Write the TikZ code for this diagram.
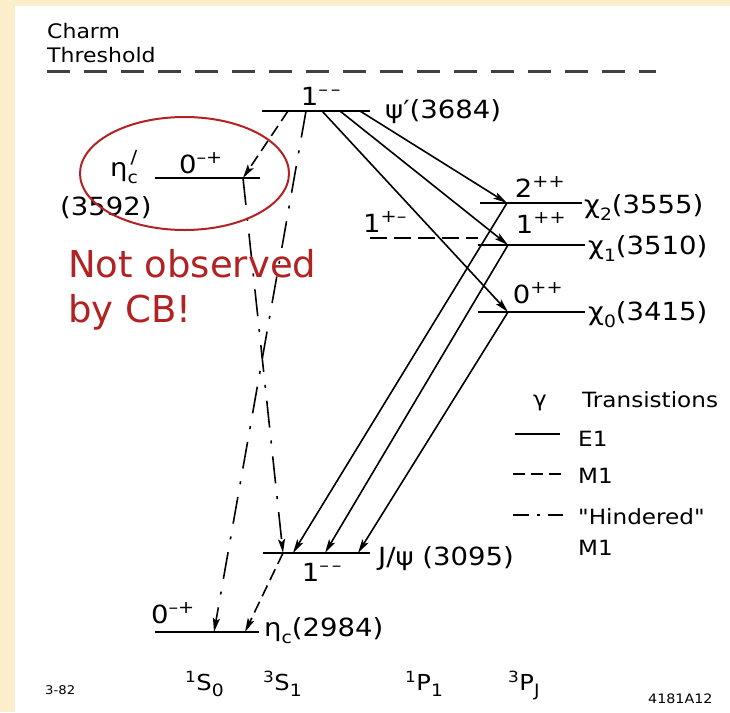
\documentclass[tikz,border=0pt]{standalone}
\usepackage{fontspec}
\usepackage{xcolor}
\usepackage{tikz}
\usetikzlibrary{arrows.meta,shapes.geometric}
\newfontfamily\lettering[FakeStretch=1.1]{DejaVu Sans}
\newfontfamily\notefont{DejaVu Sans}
\definecolor{slidebg}{RGB}{252,238,203}
\definecolor{cbred}{RGB}{178,34,34}
\newcommand{\jpc}[2]{#1\textsuperscript{#2}}
\newcommand{\lowidx}[1]{\raisebox{-0.3em}{\fontsize{17}{17}\selectfont #1}}
\newcommand{\term}[3]{\textsuperscript{#1}#2\lowidx{#3}}

\begin{document}
\begin{tikzpicture}[x=1pt, y=-1pt,
  lvl/.style={line width=2.8pt},
  lvldash/.style={line width=2.4pt, dash pattern=on 17pt off 7pt},
  thresh/.style={line width=3pt, black!75, dash pattern=on 23pt off 14pt},
  gam/.style={line width=1.6pt},
  eone/.style={gam, -{Stealth[length=14pt, width=7pt, inset=3pt]}},
  mdash/.style={dash pattern=on 12pt off 6pt},
  hdash/.style={dash pattern=on 27pt off 13pt on 3pt off 13pt},
  lvlname/.style={inner sep=0pt, font=\lettering\fontsize{25}{29}\selectfont},
  legtext/.style={inner sep=0pt, font=\lettering\fontsize{21}{25}\selectfont},
  stamp/.style={inner sep=0pt, font=\lettering\fontsize{12}{13}\selectfont},
]
  % slide background
  \fill[slidebg] (0,0) rectangle (730,712);
  \fill[white] (15,6) rectangle (730,712);
  \useasboundingbox (0,0) rectangle (730,712);

  % charm threshold
  \node[lvlname, font=\lettering\fontsize{20}{24}\selectfont, align=left, anchor=north west] (charm) at (47,23) {Charm\\Threshold};
  \coordinate (thrL) at (47,71);
  \coordinate (thrR) at (656,71);
  \draw[thresh] (thrL) -- (thrR);

  % levels
  \coordinate (psiL) at (262,111);  \coordinate (psiR) at (370,111);
  \coordinate (etapL) at (155,178); \coordinate (etapR) at (260,178);
  \coordinate (chiTwoL) at (480,203); \coordinate (chiTwoR) at (582,203);
  \coordinate (chiOneL) at (478,245); \coordinate (chiOneR) at (585,245);
  \coordinate (hcL) at (370,238);   \coordinate (hcR) at (478,238);
  \coordinate (chiZeroL) at (478,312); \coordinate (chiZeroR) at (585,312);
  \coordinate (jpsiL) at (263,553); \coordinate (jpsiR) at (370,553);
  \coordinate (etaL) at (155,632);  \coordinate (etaR) at (259,632);
  \draw[lvl] (psiL) -- (psiR);
  \draw[lvl] (etapL) -- (etapR);
  \draw[lvl] (chiTwoL) -- (chiTwoR);
  \draw[lvl] (chiOneL) -- (chiOneR);
  \draw[lvldash] (hcL) -- (hcR);
  \draw[lvl] (chiZeroL) -- (chiZeroR);
  \draw[lvl] (jpsiL) -- (jpsiR);
  \draw[lvl] (etaL) -- (etaR);

  % spins
  \node[lvlname, anchor=base] (psiJ) at (321,105) {\jpc{1}{–\,–}};
  \node[lvlname, anchor=base] (etapJ) at (201,173) {\jpc{0}{–+}};
  \node[lvlname, anchor=base] (chiTwoJ) at (540,197) {\jpc{2}{++}};
  \node[lvlname, anchor=base] (chiOneJ) at (541,233) {\jpc{1}{++}};
  \node[lvlname, anchor=base] (hcJ) at (385,232) {\jpc{1}{+–}};
  \node[lvlname, anchor=base] (chiZeroJ) at (538,303) {\jpc{0}{++}};
  \node[lvlname, anchor=base] (jpsiJ) at (322,581) {\jpc{1}{–\,–}};
  \node[lvlname, anchor=base] (etaJ) at (173,623) {\jpc{0}{–+}};

  % state names
  \node[lvlname, anchor=base west] (psiN) at (385,118) {ψ′(3684)};
  \node[lvlname, anchor=base west] (etapN) at (110,176) {η\rlap{\raisebox{0.5em}{\fontsize{18}{18}\selectfont\,/}}\lowidx{c}};
  \node[lvlname, anchor=base west] (etapM) at (60,215) {(3592)};
  \node[lvlname, anchor=base west] (chiTwoN) at (584,213) {χ\lowidx{2}(3555)};
  \node[lvlname, anchor=base west] (chiOneN) at (588,254) {χ\lowidx{1}(3510)};
  \node[lvlname, anchor=base west] (chiZeroN) at (588,320) {χ\lowidx{0}(3415)};
  \node[lvlname, anchor=base west] (jpsiN) at (378,565) {J/ψ (3095)};
  \node[lvlname, anchor=base west] (etaN) at (264,636) {η\lowidx{c}(2984)};

  % arrow ends on the levels
  \coordinate (psiM) at (288,111);
  \coordinate (psiH) at (306,111);
  \coordinate (psiC) at (322,111);
  \coordinate (psiB) at (340,111);
  \coordinate (psiA) at (360,111);
  \coordinate (etapT) at (243,178);
  \coordinate (chiTwoT) at (507,203);
  \coordinate (chiOneT) at (508,245);
  \coordinate (chiZeroT) at (508,312);
  \coordinate (jpsiH) at (283,553);
  \coordinate (jpsiA) at (293,553);
  \coordinate (jpsiB) at (325,553);
  \coordinate (jpsiC) at (358,553);
  \coordinate (etaH) at (214,632);
  \coordinate (etaM) at (245,632);

  % M1 and hindered M1
  \draw[eone, mdash] (psiM) -- (etapT);
  \draw[eone, hdash] (psiH) -- (etaH);
  \draw[eone, hdash] (etapT) -- (jpsiH);
  \draw[eone, mdash] (jpsiH) -- (etaM);

  % E1
  \draw[eone] (psiA) -- (chiTwoT);
  \draw[eone] (psiB) -- (chiOneT);
  \draw[eone] (psiC) -- (chiZeroT);
  \draw[eone] (chiTwoT) -- (jpsiA);
  \draw[eone] (chiOneT) -- (jpsiB);
  \draw[eone] (chiZeroT) -- (jpsiC);

  % legend
  \node[legtext, anchor=center] (gamma) at (540,403) {γ};
  \node[legtext, anchor=base west] (transit) at (582,407) {Transistions};
  \coordinate (eoneL) at (515,434); \coordinate (eoneR) at (560,434);
  \coordinate (moneL) at (513,474); \coordinate (moneR) at (563,474);
  \coordinate (hindL) at (513,515); \coordinate (hindR) at (563,515);
  \draw[gam] (eoneL) -- (eoneR);
  \draw[gam, mdash] (moneL) -- (moneR);
  \draw[gam, dash pattern=on 16pt off 8pt on 3pt off 8pt] (hindL) -- (hindR);
  \node[legtext, anchor=base west] (eoneT) at (578,446) {E1};
  \node[legtext, anchor=base west] (moneT) at (578,483) {M1};
  \node[legtext, anchor=base west] (hindT) at (578,524) {"Hindered"};
  \node[legtext, anchor=base west] (hindU) at (578,555) {M1};

  % spectroscopic terms
  \node[lvlname, font=\lettering\fontsize{22}{26}\selectfont, anchor=base west] (sZero) at (185,690) {\term{1}{S}{0}};
  \node[lvlname, font=\lettering\fontsize{22}{26}\selectfont, anchor=base west] (sOne) at (263,690) {\term{3}{S}{1}};
  \node[lvlname, font=\lettering\fontsize{22}{26}\selectfont, anchor=base west] (pOne) at (405,690) {\term{1}{P}{1}};
  \node[lvlname, font=\lettering\fontsize{22}{26}\selectfont, anchor=base west] (pJ) at (508,690) {\term{3}{P}{J}};

  % figure stamps
  \node[stamp, anchor=base west] (date) at (45,694) {3-82};
  \node[stamp, font=\lettering\fontsize{13}{14}\selectfont, anchor=base west] (fignum) at (648,703) {4181A12};

  % annotation
  \node[ellipse, draw=cbred, line width=2pt, minimum width=209pt, minimum height=113pt] (ring) at (184.5,173.5) {};
  \node[inner sep=0pt, text=cbred, font=\notefont\fontsize{37}{45}\selectfont, align=left, anchor=north west] (note) at (68,249) {Not observed\\by CB!};
\end{tikzpicture}
\end{document}
